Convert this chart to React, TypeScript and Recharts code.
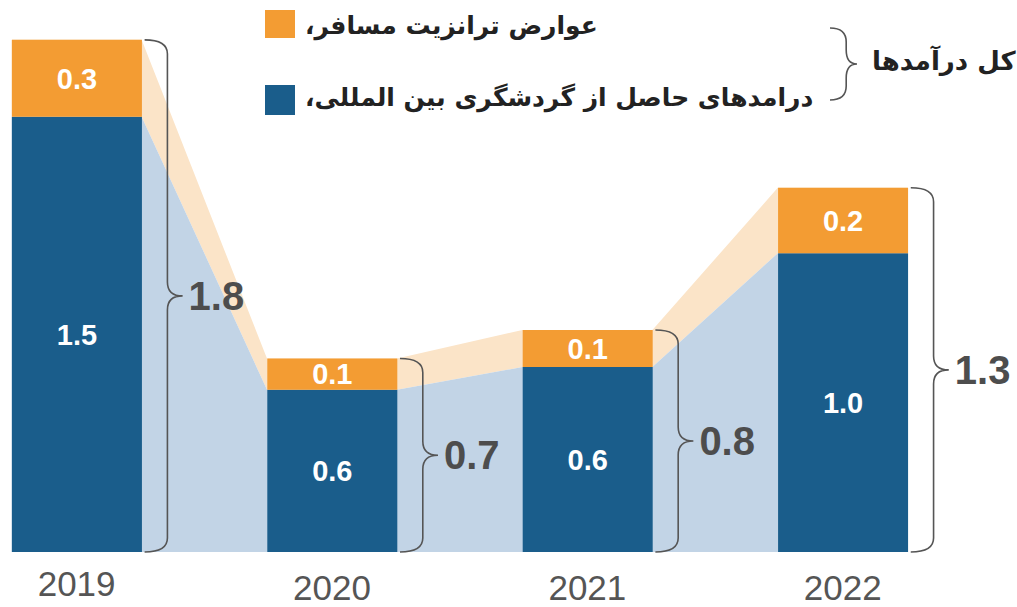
import React from 'react';
import { ComposedChart, Bar, Area, XAxis, YAxis, LabelList, ReferenceArea, Customized } from 'recharts';

const years = ['2019', '2020', '2021', '2022'];
const tourism = [1.53, 0.57, 0.65, 1.05];
const transit = [0.27, 0.11, 0.13, 0.23];
const tourismLabels = ['1.5', '0.6', '0.6', '1.0'];
const transitLabels = ['0.3', '0.1', '0.1', '0.2'];
const totalLabels = ['1.8', '0.7', '0.8', '1.3'];
const legendTransit = 'عوارض ترانزیت مسافر،';
const legendTourism = 'درامدهای حاصل از گردشگری بین المللی،';
const legendTotal = 'کل درآمدها';

const BLUE = '#1a5d8b';
const ORANGE = '#f39c33';
const LIGHT_BLUE = '#c2d4e6';
const LIGHT_ORANGE = '#fbe4c8';

const W = 1017;
const H = 607;
const MARGIN = { top: 0, right: 21, bottom: 0, left: 0 };
const X_DOMAIN: [number, number] = [-0.3, 3.6];
const Y_DOMAIN: [number, number] = [0, 1.94];
const BAR_SIZE = 130;
const pxPerUnitX = (W - MARGIN.left - MARGIN.right) / (X_DOMAIN[1] - X_DOMAIN[0]);
const HALF = BAR_SIZE / 2 / pxPerUnitX;
const BRACE_GAP = 3 / pxPerUnitX;
const BRACE_W = 38 / pxPerUnitX;

const barData = years.map((y, i) => ({
  x: i,
  year: y,
  tourism: tourism[i],
  transit: transit[i],
  tourismLabel: tourismLabels[i],
  transitLabel: transitLabels[i],
}));

const areaData = years.flatMap((_, i) => {
  const total = tourism[i] + transit[i];
  return [
    { x: i - HALF, tourism: tourism[i], band: [tourism[i], total] },
    { x: i + HALF, tourism: tourism[i], band: [tourism[i], total] },
  ];
});

const rtl = (s: string) => '\u202B' + s + '\u202C';

const bracePath = (x: number, y0: number, y1: number, w: number) => {
  const xv = x + w * 0.6;
  const ym = (y0 + y1) / 2;
  const r = Math.min(14, (y1 - y0) / 4);
  return `M${x},${y0} Q${xv},${y0} ${xv},${y0 + r} L${xv},${ym - r} Q${xv},${ym} ${x + w},${ym} Q${xv},${ym} ${xv},${ym + r} L${xv},${y1 - r} Q${xv},${y1} ${x},${y1}`;
};

const BraceShape = (props: any) => {
  const { x, y, width, height } = props;
  return <path d={bracePath(x, y, y + height, width)} fill="none" stroke="#555" strokeWidth={1.6} />;
};

const YearTick = (props: any) => {
  const { x, y, index } = props;
  return (
    <text
      x={x}
      y={y + (index === 0 ? 36 : 40)}
      textAnchor="middle"
      fontFamily="'Liberation Sans Narrow', 'Liberation Sans', Arial, sans-serif"
      fontSize={35}
      fill="#555"
    >
      {years[index] ?? props.payload.value}
    </text>
  );
};

const LegendBlock = () => (
  <g fontFamily="'DejaVu Sans', 'Noto Sans', sans-serif" fontWeight="bold" fill="#222">
    <rect x={265} y={10} width={30} height={28} fill={ORANGE} />
    <text x={305} y={34} fontSize={25} fill="#222">{rtl(legendTransit)}</text>
    <rect x={265} y={85} width={30} height={30} fill={BLUE} />
    <text x={305} y={106} fontSize={25} fill="#222">{rtl(legendTourism)}</text>
    <path d={bracePath(830, 28, 100, 27)} fill="none" stroke="#555" strokeWidth={1.6} />
    <text x={872} y={70} fontSize={26} fill="#222">{rtl(legendTotal)}</text>
  </g>
);

export default function App() {
  return (
    <div style={{ position: 'absolute', left: 0, top: 0, background: '#fff' }}>
      <ComposedChart width={W} height={H} data={barData} margin={MARGIN}>
        <XAxis
          type="number"
          dataKey="x"
          domain={X_DOMAIN}
          ticks={[0, 1, 2, 3]}
          allowDataOverflow
          axisLine={false}
          tickLine={false}
          height={55}
          tick={<YearTick />}
          interval={0}
        />
        <XAxis xAxisId="area" type="number" dataKey="x" domain={X_DOMAIN} allowDataOverflow hide />
        <YAxis hide domain={Y_DOMAIN} allowDataOverflow />
        <Area
          xAxisId="area"
          data={areaData}
          dataKey="band"
          type="linear"
          stroke="none"
          fill={LIGHT_ORANGE}
          fillOpacity={1}
          isAnimationActive={false}
          dot={false}
          activeDot={false}
        />
        <Area
          xAxisId="area"
          data={areaData}
          dataKey="tourism"
          type="linear"
          stroke="none"
          fill={LIGHT_BLUE}
          fillOpacity={1}
          isAnimationActive={false}
          dot={false}
          activeDot={false}
        />
        <Bar dataKey="tourism" stackId="s" fill={BLUE} barSize={BAR_SIZE} isAnimationActive={false}>
          <LabelList
            dataKey="tourismLabel"
            position="center"
            fill="#fff"
            fontSize={29}
            fontWeight="bold"
            fontFamily="'Liberation Sans', Arial, sans-serif"
          />
        </Bar>
        <Bar dataKey="transit" stackId="s" fill={ORANGE} barSize={BAR_SIZE} isAnimationActive={false}>
          <LabelList
            dataKey="transitLabel"
            position="center"
            fill="#fff"
            fontSize={29}
            fontWeight="bold"
            fontFamily="'Liberation Sans', Arial, sans-serif"
          />
        </Bar>
        {years.map((_, i) => (
          <ReferenceArea
            key={i}
            x1={i + HALF + BRACE_GAP}
            x2={i + HALF + BRACE_GAP + BRACE_W}
            y1={0}
            y2={tourism[i] + transit[i]}
            shape={<BraceShape />}
            ifOverflow="visible"
            label={{
              value: totalLabels[i],
              position: 'right',
              offset: 6,
              fill: '#4d4d4d',
              fontSize: 40,
              fontWeight: 'bold',
              fontFamily: "'Liberation Sans', Arial, sans-serif",
            }}
          />
        ))}
        <Customized component={LegendBlock} />
      </ComposedChart>
    </div>
  );
}
